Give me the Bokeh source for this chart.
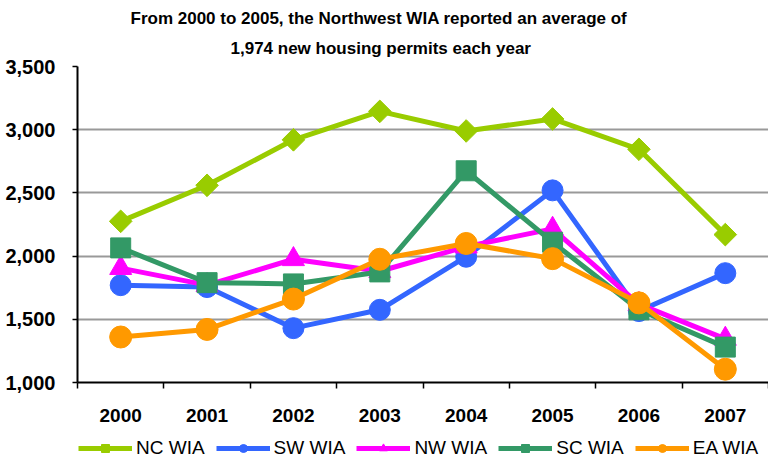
from bokeh.plotting import figure
from bokeh.models import (FixedTicker, NumeralTickFormatter, Range1d, Legend, LegendItem,
                          Title, ColumnDataSource)
from bokeh.layouts import column
from bokeh.embed import file_html
from bokeh.resources import INLINE
import numpy as np

years = ["2000", "2001", "2002", "2003", "2004", "2005", "2006", "2007"]
nc_wia = [2275, 2560, 2920, 3145, 2990, 3085, 2845, 2170]
sw_wia = [1770, 1755, 1430, 1575, 1995, 2520, 1565, 1865]
nw_wia = [1905, 1770, 1975, 1880, 2075, 2215, 1620, 1345]
sc_wia = [2065, 1790, 1780, 1875, 2675, 2110, 1575, 1280]
ea_wia = [1360, 1420, 1660, 1975, 2100, 1980, 1630, 1105]
y_ticks = [1000, 1500, 2000, 2500, 3000, 3500]

title_line1 = "From 2000 to 2005, the Northwest WIA reported an average of"
title_line2 = "1,974 new housing permits each year"

FONT = "Liberation Sans"

xs = [i + 0.5 for i in range(len(years))]

p = figure(width=768, height=433, output_backend="svg", toolbar_location=None,
           x_range=Range1d(0, len(years)), y_range=Range1d(y_ticks[0], y_ticks[-1]),
           min_border_left=77, min_border_right=0, min_border_top=66, min_border_bottom=51)
p.outline_line_color = None
p.background_fill_color = "white"
p.border_fill_color = "white"

# titles (first added is closest to plot)
t2 = Title(text=title_line2, align="left", text_font=FONT, text_font_size="17px",
           text_font_style="bold", text_color="black", offset=153, standoff=18)
t1 = Title(text=title_line1, align="left", text_font=FONT, text_font_size="17px",
           text_font_style="bold", text_color="black", offset=53, standoff=0)
p.add_layout(t2, "above")
p.add_layout(t1, "above")

# x axis
p.xaxis.ticker = FixedTicker(ticks=xs, minor_ticks=list(range(len(years) + 1)))
p.xaxis.major_label_overrides = {x: y for x, y in zip(xs, years)}
p.xaxis.major_tick_line_color = None
p.xaxis.major_tick_out = 0
p.xaxis.major_tick_in = 0
p.xaxis.minor_tick_out = 6
p.xaxis.minor_tick_in = 0
p.xaxis.minor_tick_line_color = "black"
p.xaxis.minor_tick_line_width = 1.5
p.xaxis.axis_line_color = "black"
p.xaxis.axis_line_width = 2
p.xaxis.major_label_text_font = FONT
p.xaxis.major_label_text_font_size = "19px"
p.xaxis.major_label_text_font_style = "bold"
p.xaxis.major_label_text_color = "black"
p.xaxis.major_label_standoff = 20

# y axis
p.yaxis.ticker = FixedTicker(ticks=y_ticks, minor_ticks=[])
p.yaxis.formatter = NumeralTickFormatter(format="0,0")
p.yaxis.major_tick_out = 5
p.yaxis.major_tick_in = 0
p.yaxis.major_tick_line_color = "black"
p.yaxis.major_tick_line_width = 1.5
p.yaxis.axis_line_color = "black"
p.yaxis.axis_line_width = 2
p.yaxis.major_label_text_font = FONT
p.yaxis.major_label_text_font_size = "20px"
p.yaxis.major_label_text_font_style = "bold"
p.yaxis.major_label_text_color = "black"
p.yaxis.major_label_standoff = 17

p.xgrid.grid_line_color = None
p.ygrid.grid_line_color = "#999999"
p.ygrid.grid_line_width = 2

series = [
    ("NC WIA", nc_wia, "#99CC00", "square", 16, np.pi / 4),
    ("SW WIA", sw_wia, "#3366FF", "circle", 21, 0),
    ("NW WIA", nw_wia, "#FF00FF", "triangle", 22, 0),
    ("SC WIA", sc_wia, "#339966", "square", 20, 0),
    ("EA WIA", ea_wia, "#FF9900", "circle", 22, 0),
]

# legend strip (separate figure below the chart)
lg = figure(width=768, height=26, output_backend="svg", toolbar_location=None,
            x_range=Range1d(0, 1), y_range=Range1d(0, 1),
            min_border_left=0, min_border_right=0, min_border_top=0, min_border_bottom=0)
lg.axis.visible = False
lg.grid.visible = False
lg.outline_line_color = None
lg.background_fill_color = "white"
lg.border_fill_color = "white"

items = []
for name, vals, color, marker, size, ang in series:
    src = ColumnDataSource(dict(x=xs, y=vals))
    p.line("x", "y", source=src, line_color=color, line_width=5)
    p.scatter("x", "y", source=src, marker=marker, size=size, angle=ang,
              fill_color=color, line_color=color)
    dsrc = ColumnDataSource(dict(x=np.array([np.nan]), y=np.array([np.nan])))
    ln = lg.line("x", "y", source=dsrc, line_color=color, line_width=5)
    sc = lg.scatter("x", "y", source=dsrc, marker=marker, size=size, angle=ang,
                    fill_color=color, line_color=color)
    items.append(LegendItem(label=name, renderers=[ln, sc]))

legend = Legend(items=items, orientation="horizontal", location=(1, 0))
legend.label_text_font = FONT
legend.label_text_font_size = "19px"
legend.label_text_color = "black"
legend.glyph_width = 54
legend.glyph_height = 20
legend.label_standoff = 4
legend.spacing = 11
legend.padding = 0
legend.margin = 0
legend.border_line_color = None
legend.background_fill_alpha = 0
lg.add_layout(legend)

layout = column(p, lg, spacing=0)
open("out.html", "w").write(file_html(layout, INLINE))
